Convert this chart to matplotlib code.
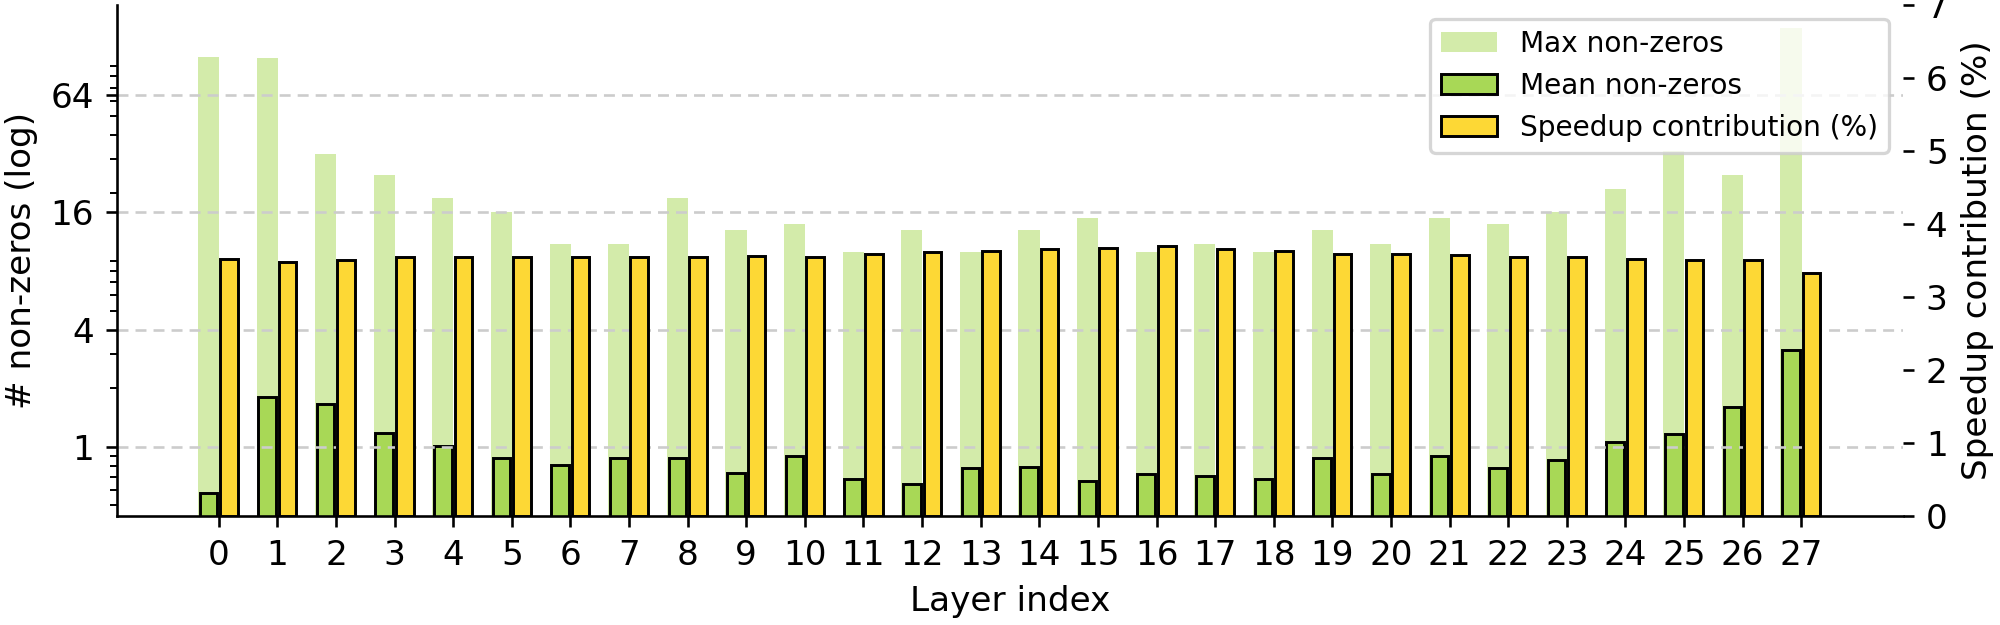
import matplotlib
matplotlib.use("Agg")
import matplotlib.pyplot as plt
import numpy as np
from matplotlib.ticker import NullFormatter

# ---- data ----
layers = list(range(28))
max_nonzeros = [100, 99, 32, 25, 19, 16, 11, 11, 19, 13, 14, 10, 13, 10,
                13, 15, 10, 11, 10, 13, 11, 15, 14, 16, 21, 33, 25, 142]
mean_nonzeros = [0.58, 1.80, 1.65, 1.17, 1.01, 0.875, 0.81, 0.88, 0.88, 0.73,
                 0.90, 0.68, 0.645, 0.78, 0.785, 0.67, 0.72, 0.71, 0.68, 0.875,
                 0.72, 0.90, 0.78, 0.855, 1.06, 1.16, 1.60, 3.13]
speedup_pct = [3.52, 3.48, 3.51, 3.54, 3.54, 3.54, 3.54, 3.54, 3.54, 3.56,
               3.55, 3.58, 3.61, 3.63, 3.66, 3.67, 3.69, 3.65, 3.62, 3.59,
               3.58, 3.57, 3.55, 3.54, 3.52, 3.51, 3.50, 3.33]
left_ticks = [1, 4, 16, 64]
right_ticks = [0, 1, 2, 3, 4, 5, 6, 7]

GREEN = "#a8d856"
YELLOW = "#fdd835"

plt.rcParams["font.size"] = 10.5

DPI = 235
fig = plt.figure(figsize=(2000 / DPI, 625 / DPI), dpi=DPI)
ax1 = fig.add_axes([117 / 2000, 1 - 516 / 625, (1903 - 117) / 2000, (516 - 4.5) / 625])
ax2 = ax1.twinx()

x = np.arange(len(layers))
off = 0.175
ax1.bar(x - off, max_nonzeros, 0.36, color=GREEN, alpha=0.5, linewidth=0,
        label="Max non-zeros")
ax1.bar(x - off, mean_nonzeros, 0.30, color=GREEN, edgecolor="black",
        linewidth=0.9, label="Mean non-zeros")
ax2.bar(x + off, speedup_pct, 0.30, color=YELLOW, edgecolor="black",
        linewidth=0.9, label="Speedup contribution (%)")

# left log axis
ax1.set_yscale("log")
lo = np.log2(min(mean_nonzeros))
hi = np.log2(max(max_nonzeros))
span = hi - lo
ax1.set_ylim(2 ** (lo - 0.05 * span), 2 ** (hi + 0.05 * span))
ax1.set_yticks(left_ticks)
ax1.set_yticklabels([str(t) for t in left_ticks])
ax1.yaxis.set_minor_formatter(NullFormatter())
ax1.set_ylabel("# non-zeros (log)")
ax1.yaxis.grid(True, which="major", color="#cccccc", linestyle=(0, (4.2, 2.7)),
               linewidth=0.8)

ax1.set_xlim(-1.735, 28.735)
ax1.set_xticks(x)
ax1.set_xticklabels([str(l) for l in layers])
ax1.set_xlabel("Layer index")

ax2.set_ylim(0, 7)
ax2.set_yticks(right_ticks)
ax2.set_ylabel("Speedup contribution (%)")

for s in ["top", "right"]:
    ax1.spines[s].set_visible(False)
for s in ["top", "right", "left", "bottom"]:
    ax2.spines[s].set_visible(False)

h1, l1 = ax1.get_legend_handles_labels()
h2, l2 = ax2.get_legend_handles_labels()
ax2.legend(h1 + h2, l1 + l2, loc="upper right", fontsize=8.6)

fig.savefig("out.png", dpi=DPI)
